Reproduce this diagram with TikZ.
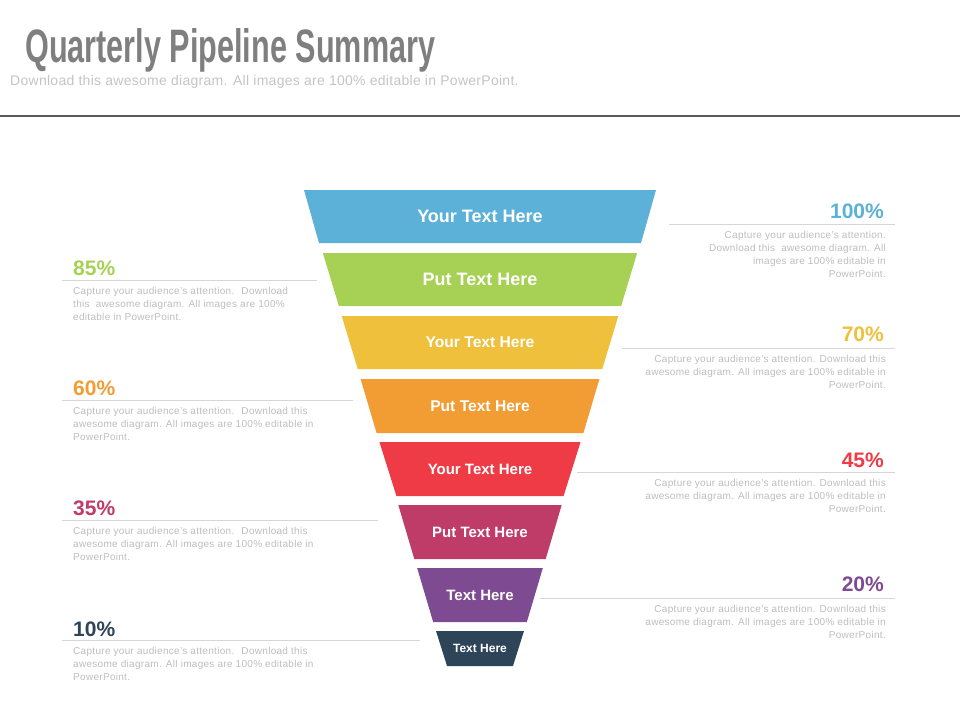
\documentclass[tikz,border=0pt]{standalone}
\usepackage{fontspec}
\setmainfont{Liberation Sans}
\usepackage{graphicx}
\definecolor{cBlue}{HTML}{5BB1D7}
\definecolor{cGreen}{HTML}{A6D154}
\definecolor{cYellow}{HTML}{EEC03B}
\definecolor{cOrange}{HTML}{F29D33}
\definecolor{cRed}{HTML}{EE3B45}
\definecolor{cCrimson}{HTML}{C03C68}
\definecolor{cPurple}{HTML}{7E4B92}
\definecolor{cNavy}{HTML}{2E4459}
\definecolor{cTitle}{HTML}{7F7F7F}
\definecolor{cSub}{HTML}{C4C4C4}
\definecolor{cDesc}{HTML}{BDBDBD}
\definecolor{cLine}{HTML}{D6D6D6}
\definecolor{cRule}{HTML}{595959}
\begin{document}
\begin{tikzpicture}[x=1pt,y=-1pt,
  segtext/.style={text=white,inner sep=0pt,anchor=center},
  pct/.style={inner sep=0pt,font=\bfseries\fontsize{21}{21}\selectfont},
  desc/.style={inner sep=0pt,text=cDesc,font=\fontsize{10}{13}\selectfont\addfontfeature{LetterSpace=3}},
  sepline/.style={draw=cLine,line width=0.9pt}]
\useasboundingbox (0,0) rectangle (960,720);
% header
\node[anchor=base west,inner sep=0pt,text=cTitle] (title) at (25,62)
  {\resizebox{410pt}{34pt}{\bfseries Quarterly Pipeline Summary}};
\node[anchor=base west,inner sep=0pt,text=cSub,font=\fontsize{14}{14}\selectfont\addfontfeature{LetterSpace=2}] (sub) at (10,85)
  {Download this awesome diagram. All images are 100\% editable in PowerPoint.};
\coordinate (r1) at (0,116);
\coordinate (r2) at (960,116);
\draw[cRule,line width=2.6pt] (r1) -- (r2);
% funnel
\foreach \i/\c/\t/\fs/\h/\d in {
  0/cBlue/Your Text Here/18/53/15,
  1/cGreen/Put Text Here/18/53/16,
  2/cYellow/Your Text Here/15.6/53/16,
  3/cOrange/Put Text Here/15.6/54/16,
  4/cRed/Your Text Here/15/54/17,
  5/cCrimson/Put Text Here/15/54/16,
  6/cPurple/Text Here/15/54/16,
  7/cNavy/Text Here/12/35/11}{
  \pgfmathsetmacro\ty{190+63*\i}
  \pgfmathsetmacro\tw{176-18.86*\i}
  \pgfmathsetmacro\by{\ty+\h}
  \pgfmathsetmacro\bw{\tw-\d}
  \fill[\c] (480-\tw,\ty) -- (480+\tw,\ty) -- (480+\bw,\by) -- (480-\bw,\by) -- cycle;
  \node[segtext,font=\bfseries\fontsize{\fs}{\fs}\selectfont] (seg\i) at (480,\ty+\h/2) {\t};
}
% right labels
\coordinate (a1) at (669,224); \coordinate (a2) at (895,224);
\draw[sepline] (a1) -- (a2);
\node[pct,anchor=base east,text=cBlue] (p100) at (884,218) {100\%};
\node[desc,anchor=north east,align=right] (d100) at (886,231)
  {Capture your audience's attention.\\Download this \ awesome diagram. All\\images are 100\% editable in\\PowerPoint.};

\coordinate (b1) at (622,348); \coordinate (b2) at (895,348);
\draw[sepline] (b1) -- (b2);
\node[pct,anchor=base east,text=cYellow] (p70) at (884,341) {70\%};
\node[desc,anchor=north east,align=right] (d70) at (886,355)
  {Capture your audience's attention. Download this\\awesome diagram. All images are 100\% editable in\\PowerPoint.};

\coordinate (c1) at (577,472); \coordinate (c2) at (895,472);
\draw[sepline] (c1) -- (c2);
\node[pct,anchor=base east,text=cRed] (p45) at (884,467) {45\%};
\node[desc,anchor=north east,align=right] (d45) at (886,479)
  {Capture your audience's attention. Download this\\awesome diagram. All images are 100\% editable in\\PowerPoint.};

\coordinate (e1) at (540,598); \coordinate (e2) at (895,598);
\draw[sepline] (e1) -- (e2);
\node[pct,anchor=base east,text=cPurple] (p20) at (884,591) {20\%};
\node[desc,anchor=north east,align=right] (d20) at (886,605)
  {Capture your audience's attention. Download this\\awesome diagram. All images are 100\% editable in\\PowerPoint.};

% left labels
\coordinate (f1) at (62,280); \coordinate (f2) at (317,280);
\draw[sepline] (f1) -- (f2);
\node[pct,anchor=base west,text=cGreen] (p85) at (73,275) {85\%};
\node[desc,anchor=north west,align=left] (d85) at (73,287)
  {Capture your audience's attention. \ Download\\this \ awesome diagram. All images are 100\%\\editable in PowerPoint.};

\coordinate (g1) at (62,400); \coordinate (g2) at (353,400);
\draw[sepline] (g1) -- (g2);
\node[pct,anchor=base west,text=cOrange] (p60) at (73,395) {60\%};
\node[desc,anchor=north west,align=left] (d60) at (73,407)
  {Capture your audience's attention. \ Download this\\awesome diagram. All images are 100\% editable in\\PowerPoint.};

\coordinate (h1) at (62,520); \coordinate (h2) at (378,520);
\draw[sepline] (h1) -- (h2);
\node[pct,anchor=base west,text=cCrimson] (p35) at (73,515) {35\%};
\node[desc,anchor=north west,align=left] (d35) at (73,527)
  {Capture your audience's attention. \ Download this\\awesome diagram. All images are 100\% editable in\\PowerPoint.};

\coordinate (k1) at (62,640); \coordinate (k2) at (420,640);
\draw[sepline] (k1) -- (k2);
\node[pct,anchor=base west,text=cNavy] (p10) at (73,636) {10\%};
\node[desc,anchor=north west,align=left] (d10) at (73,647)
  {Capture your audience's attention. \ Download this\\awesome diagram. All images are 100\% editable in\\PowerPoint.};
\end{tikzpicture}
\end{document}
